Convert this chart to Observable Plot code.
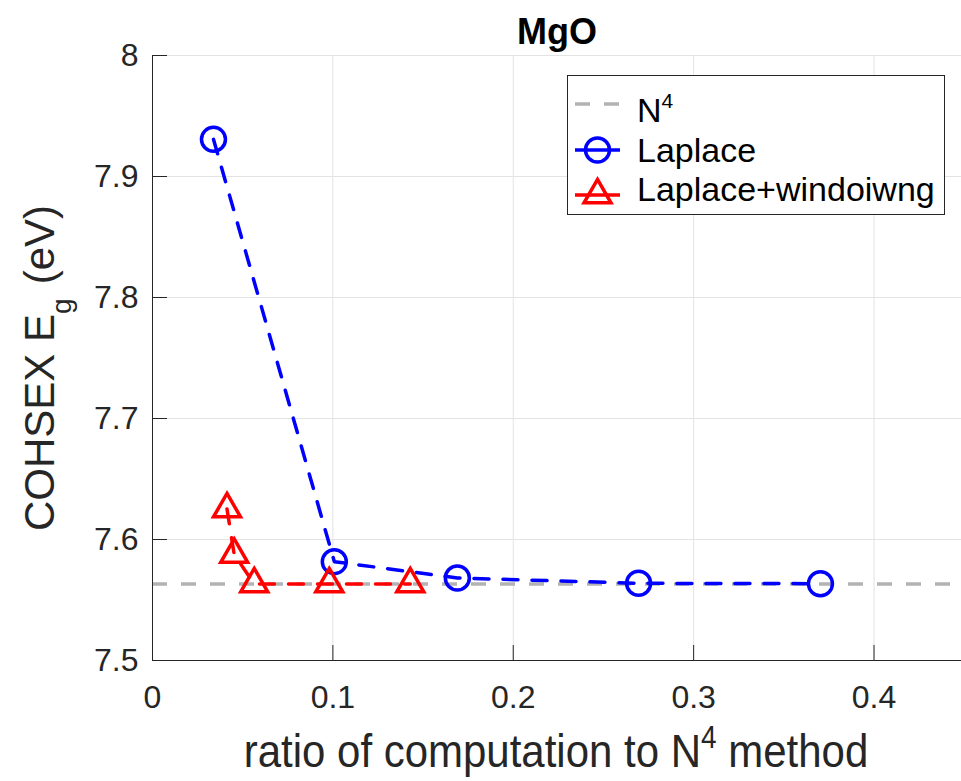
<!DOCTYPE html>
<html><head><meta charset="utf-8">
<script src="https://cdn.jsdelivr.net/npm/d3@7"></script>
<script src="https://cdn.jsdelivr.net/npm/@observablehq/plot@0.6"></script>
<style>
html,body{margin:0;padding:0;background:#fff;}
#chart{position:relative;width:961px;height:781px;overflow:hidden;}
</style></head><body><div id="chart"></div>
<script>
// ---- data ----
const laplaceX = [0.0338, 0.1008, 0.169, 0.2695, 0.3703];
const laplaceY = [7.9307, 7.5817, 7.5682, 7.5638, 7.5635];
const windowX = [0.0413, 0.0453, 0.0564, 0.098, 0.1429];
const windowY = [7.6252, 7.5876, 7.5632, 7.5632, 7.5632];
const n4Value = [7.5633];
const xTicks = [0, 0.1, 0.2, 0.3, 0.4];
const yTicks = [7.5, 7.6, 7.7, 7.8, 7.9, 8];
const xDomain = [0, 0.4485];
const yDomain = [7.5, 8];
const titleText = ["MgO"];
const legendNames = ["N", "Laplace", "Laplace+windoiwng"];

const fontFamily = "'Liberation Sans', Arial, Helvetica, sans-serif";
const laplace = laplaceX.map((x, i) => ({x, y: laplaceY[i]}));
const windowed = windowX.map((x, i) => ({x, y: windowY[i]}));

const W = 961, H = 781, mL = 152, mR = 0, mT = 55, mB = 121;
const frameW = W - mL - mR, frameH = H - mT - mB;
const axisColor = "#262626", gridColor = "#e3e3e3";
const blue = "#0000ff", red = "#ff0000", gray = "#b3b3b3";
const lw = 3.5, dash = "15,14";

const plot = Plot.plot({
  width: W, height: H,
  marginLeft: mL, marginRight: mR, marginTop: mT, marginBottom: mB,
  style: {fontFamily, background: "#fff", color: axisColor, overflow: "hidden"},
  x: {domain: xDomain},
  y: {domain: yDomain},
  marks: [
    Plot.gridX(xTicks, {stroke: gridColor, strokeOpacity: 1, strokeWidth: 1}),
    Plot.gridY(yTicks, {stroke: gridColor, strokeOpacity: 1, strokeWidth: 1}),
    Plot.ruleY(n4Value, {stroke: gray, strokeWidth: lw, strokeDasharray: dash}),
    Plot.line(laplace, {x: "x", y: "y", stroke: blue, strokeWidth: lw, strokeDasharray: dash}),
    Plot.dot(laplace, {x: "x", y: "y", r: 12, stroke: blue, strokeWidth: lw, fill: "none"}),
    Plot.line(windowed, {x: "x", y: "y", stroke: red, strokeWidth: lw, strokeDasharray: dash}),
    Plot.dot(windowed, {x: "x", y: "y", symbol: "triangle", r: 10, stroke: red, strokeWidth: lw, fill: "none"}),
    Plot.ruleX(xTicks, {stroke: axisColor, insetTop: frameH - 15}),
    Plot.ruleY(yTicks, {stroke: axisColor, insetRight: frameW - 15}),
    Plot.ruleX([xDomain[0]], {stroke: axisColor}),
    Plot.ruleY([yDomain[0]], {stroke: axisColor}),
    Plot.axisX(xTicks, {tickSize: 0, tickPadding: 25, fontSize: 32, tickFormat: d => String(d), label: null}),
    Plot.axisY(yTicks, {tickSize: 0, tickPadding: 14, fontSize: 32, tickFormat: d => String(d), label: null}),
    Plot.text(titleText, {text: d => d, frameAnchor: "top", lineAnchor: "bottom", dy: -12, fontSize: 36, fontWeight: "bold", fill: "#000"})
  ]
});
document.getElementById("chart").appendChild(plot);

const svg = d3.select(plot);

// x label
const xl = svg.append("text")
  .attr("transform", "translate(556,767) scale(1,1.1)").attr("text-anchor", "middle")
  .attr("fill", axisColor).style("font-size", "42px").style("font-family", fontFamily);
xl.append("tspan").text("ratio of computation to N");
xl.append("tspan").attr("dy", -17).style("font-size", "28px").text("4");
xl.append("tspan").attr("dy", 17).text(" method");

// y label
const yl = svg.append("text")
  .attr("transform", "translate(54,368) rotate(-90)").attr("text-anchor", "middle")
  .attr("fill", axisColor).style("font-size", "42px").style("font-family", fontFamily);
yl.append("tspan").text("COHSEX E");
yl.append("tspan").attr("dy", 17).style("font-size", "28px").text("g");
yl.append("tspan").attr("dy", -17).attr("dx", 14).text("(eV)");

// legend
const lg = svg.append("g").style("font-family", fontFamily).attr("text-anchor", "start");
lg.append("rect").attr("x", 567.5).attr("y", 75.5).attr("width", 377).attr("height", 139)
  .attr("fill", "#fff").attr("stroke", axisColor).attr("stroke-width", 1);
const rows = [
  {y: 104, tb: 122, color: gray, marker: null},
  {y: 150, tb: 162, color: blue, marker: "circle"},
  {y: 195, tb: 201, color: red, marker: "triangle"}
];
rows.forEach((r, i) => {
  lg.append("line").attr("x1", 575).attr("x2", 620).attr("y1", r.y).attr("y2", r.y)
    .attr("stroke", r.color).attr("stroke-width", lw)
    .attr("stroke-dasharray", r.marker ? null : dash);
  if (r.marker === "circle") {
    lg.append("circle").attr("cx", 597.5).attr("cy", r.y).attr("r", 12)
      .attr("fill", "none").attr("stroke", r.color).attr("stroke-width", lw);
  } else if (r.marker === "triangle") {
    lg.append("path").attr("d", d3.symbol(d3.symbolTriangle, Math.PI * 100)())
      .attr("transform", `translate(597.5,${r.y})`)
      .attr("fill", "none").attr("stroke", r.color).attr("stroke-width", lw);
  }
  const t = lg.append("text").attr("x", 637).attr("y", r.tb).attr("text-anchor", "start")
    .attr("fill", "#000").style("font-size", "34px");
  t.append("tspan").text(legendNames[i]);
  if (i === 0) t.append("tspan").attr("dy", -14).style("font-size", "21px").text("4");
});
</script></body></html>
